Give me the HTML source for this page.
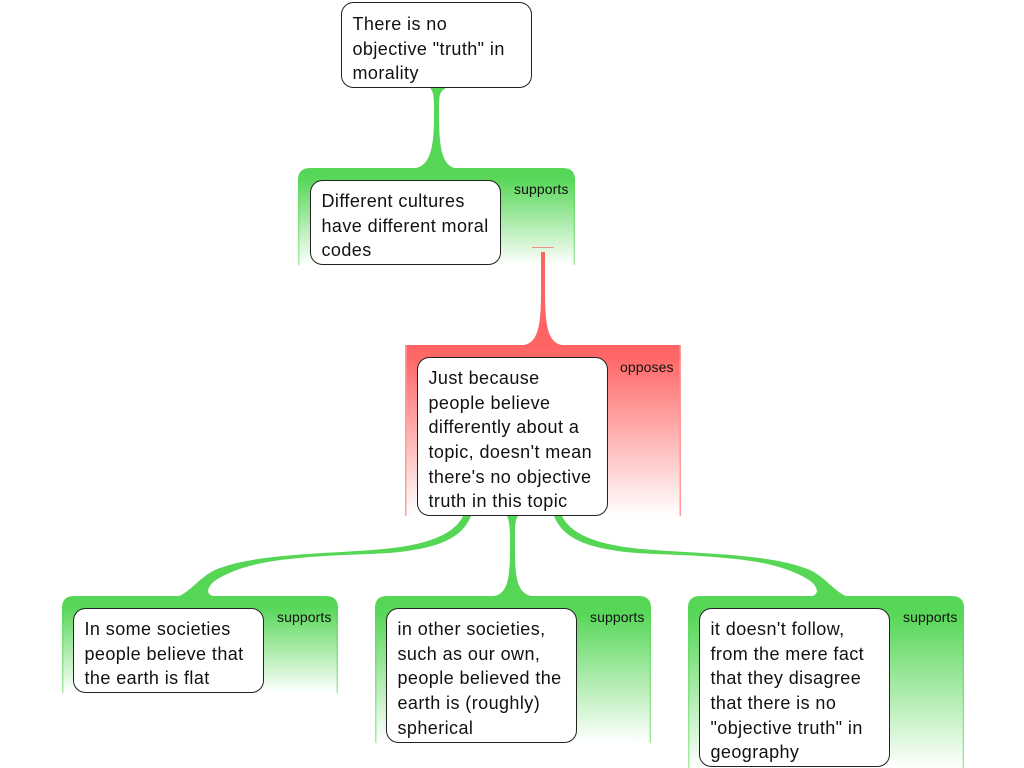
<!DOCTYPE html>
<html><head><meta charset="utf-8"><style>
html,body{margin:0;padding:0;background:#fff;width:1024px;height:768px;overflow:hidden}
svg{display:block;position:absolute;left:0;top:0}
.t{font-family:"Liberation Sans",sans-serif;font-size:18px;fill:#111;letter-spacing:.42px}
.l{font-family:"Liberation Sans",sans-serif;font-size:14px;fill:#111;letter-spacing:.1px}
.n{fill:#fff;stroke:#222;stroke-width:1}
</style></head><body>
<svg width="1024" height="768" viewBox="0 0 1024 768" xmlns="http://www.w3.org/2000/svg">
<defs>
<linearGradient id="g" x1="0" y1="0" x2="0" y2="1"><stop offset="0" stop-color="#55d655"/><stop offset=".12" stop-color="#58d758"/><stop offset="1" stop-color="#fff"/></linearGradient>
<linearGradient id="gs" x1="0" y1="0" x2="0" y2="1"><stop offset="0" stop-color="#55d655"/><stop offset="1" stop-color="#a8eca8"/></linearGradient>
<linearGradient id="r" x1="0" y1="0" x2="0" y2="1"><stop offset="0" stop-color="#ff6464"/><stop offset=".08" stop-color="#ff6868"/><stop offset="1" stop-color="#fff"/></linearGradient>
</defs>

<!-- panels -->
<path fill="url(#g)" d="M298,265 V180 Q298,168 310,168 H563 Q575,168 575,180 V265 Z"/>
<rect x="298" y="178" width="1.5" height="87" fill="url(#gs)"/><rect x="573.5" y="178" width="1.5" height="87" fill="url(#gs)"/>
<path fill="url(#r)" d="M405,345 H681 V516 H405 Z"/>
<rect x="405" y="345" width="1.5" height="171" fill="#ff9c9c"/><rect x="679.5" y="345" width="1.5" height="171" fill="#ff9c9c"/>
<path fill="url(#g)" d="M62,693 V608 Q62,596 74,596 H326 Q338,596 338,608 V693 Z"/>
<rect x="62" y="606" width="1.5" height="87" fill="url(#gs)"/><rect x="336.5" y="606" width="1.5" height="87" fill="url(#gs)"/>
<path fill="url(#g)" d="M375,743 V608 Q375,596 387,596 H639 Q651,596 651,608 V743 Z"/>
<rect x="375" y="606" width="1.5" height="137" fill="url(#gs)"/><rect x="649.5" y="606" width="1.5" height="137" fill="url(#gs)"/>
<path fill="url(#g)" d="M688,768 V608 Q688,596 700,596 H952 Q964,596 964,608 V768 Z"/>
<rect x="688" y="606" width="1.5" height="162" fill="url(#gs)"/><rect x="962.5" y="606" width="1.5" height="162" fill="url(#gs)"/>

<!-- connectors -->
<path fill="#55d655" d="M430,88 C433,91 434,95 434,108 C434,138 434,168 412,168.5 L458,168.5 C439,168 439,138 439,108 C439,95 440,91 446,88 Z"/>
<path fill="#ff6464" d="M541,252 L541,290 C541,328 538,345 520,345.5 L566,345.5 C548,345 545,328 545,290 L545,252 Z"/>
<path fill="#55d655" d="M463,516 C455,533 430,545 383,549 C330,554 255,553 215,570 C200,577 190,592 178,596.5 L216,596.5 C206,596 205,588 216,580 C235,568 262,561 300,558 C340,554 370,555 400,552 C440,547 462,538 471,516 Z"/>
<path fill="#55d655" transform="translate(1025,0) scale(-1,1)" d="M463,516 C455,533 430,545 383,549 C330,554 255,553 215,570 C200,577 190,592 178,596.5 L216,596.5 C206,596 205,588 216,580 C235,568 262,561 300,558 C340,554 370,555 400,552 C440,547 462,538 471,516 Z"/>
<path fill="#55d655" d="M507,516 C509,520 510,526 510,540 C510,575 510,596 490,596.5 L536,596.5 C515,596 515,575 515,540 C515,526 515,520 518,516 Z"/>

<rect x="532" y="247" width="22" height="1" fill="#f09080"/>

<!-- nodes -->
<rect class="n" x="341.5" y="2.5" width="190" height="85" rx="12"/>
<rect class="n" x="310.5" y="180.5" width="190" height="84" rx="12"/>
<rect class="n" x="417.5" y="357.5" width="190" height="158" rx="12"/>
<rect class="n" x="73.5" y="608.5" width="190" height="84" rx="12"/>
<rect class="n" x="386.5" y="608.5" width="190" height="134" rx="12"/>
<rect class="n" x="699.5" y="608.5" width="190" height="158" rx="12"/>

<!-- text -->
<text class="t" x="352.5" y="30">There is no</text>
<text class="t" x="352.5" y="55">objective "truth" in</text>
<text class="t" x="352.5" y="79">morality</text>

<text class="t" x="321.5" y="207">Different cultures</text>
<text class="t" x="321.5" y="232">have different moral</text>
<text class="t" x="321.5" y="256">codes</text>
<text class="l" x="514" y="194">supports</text>

<text class="t" x="428.5" y="384">Just because</text>
<text class="t" x="428.5" y="409">people believe</text>
<text class="t" x="428.5" y="433">differently about a</text>
<text class="t" x="428.5" y="458">topic, doesn't mean</text>
<text class="t" x="428.5" y="483">there's no objective</text>
<text class="t" x="428.5" y="507">truth in this topic</text>
<text class="l" x="620" y="372">opposes</text>

<text class="t" x="84.5" y="635">In some societies</text>
<text class="t" x="84.5" y="660">people believe that</text>
<text class="t" x="84.5" y="684">the earth is flat</text>
<text class="l" x="277" y="622">supports</text>

<text class="t" x="397.5" y="635">in other societies,</text>
<text class="t" x="397.5" y="660">such as our own,</text>
<text class="t" x="397.5" y="684">people believed the</text>
<text class="t" x="397.5" y="709">earth is (roughly)</text>
<text class="t" x="397.5" y="734">spherical</text>
<text class="l" x="590" y="622">supports</text>

<text class="t" x="710.5" y="635">it doesn't follow,</text>
<text class="t" x="710.5" y="660">from the mere fact</text>
<text class="t" x="710.5" y="684">that they disagree</text>
<text class="t" x="710.5" y="709">that there is no</text>
<text class="t" x="710.5" y="734">"objective truth" in</text>
<text class="t" x="710.5" y="758">geography</text>
<text class="l" x="903" y="622">supports</text>
</svg>
</body></html>
